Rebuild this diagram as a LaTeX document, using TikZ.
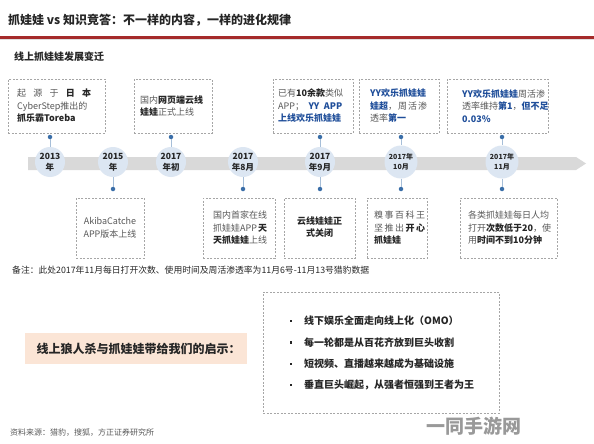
\documentclass[tikz,border=0pt]{standalone}
\usepackage{fontspec}
\setmainfont{Noto Sans CJK SC}
\definecolor{tblue}{HTML}{1F4E9A}
\definecolor{tgray}{HTML}{595959}
\definecolor{tdark}{HTML}{262626}
\definecolor{bargray}{HTML}{D9D9D9}
\definecolor{circfill}{HTML}{DCE6F2}
\definecolor{dotblue}{HTML}{3A6EA8}
\definecolor{peach}{HTML}{FBE5D6}
\definecolor{redline}{HTML}{A52A2A}
\newcommand{\bb}[1]{\textbf{\color{tblue}#1}}
\newcommand{\bk}[1]{\textbf{\color{tdark}#1}}
\begin{document}
\begin{tikzpicture}[x=1pt,y=-1pt,
  dbox/.style={draw=gray!70, dash pattern=on 2pt off 1.5pt, line width=0.6pt, inner sep=0pt, anchor=north west},
  btext/.style={anchor=west, inner sep=0pt, align=left, font=\fontsize{9}{12.5}\selectfont, text=tgray},
  ctext/.style={inner sep=0pt, align=center, font=\fontsize{9}{12.5}\selectfont, text=tgray},
  yearc/.style={circle, fill=circfill, minimum size=30pt, inner sep=0pt, align=center, font=\bfseries\fontsize{8.5}{11}\selectfont, text=tdark},
  yearcs/.style={yearc, minimum size=33pt, font=\bfseries\fontsize{7}{9.5}\selectfont},
  dot/.style={circle, fill=dotblue, minimum size=4.5pt, inner sep=0pt},
  stem/.style={draw=dotblue!45, line width=0.7pt},
  bul/.style={rectangle, fill=tdark, minimum size=2.8pt, inner sep=0pt},
  item/.style={anchor=west, font=\bfseries\fontsize{10}{12}\selectfont, text=tdark, inner sep=0pt}
]
\useasboundingbox (0,0) rectangle (594,444);
\fill[white] (0,0) rectangle (594,444);

% header
\node[anchor=west, inner sep=0pt, font=\bfseries\fontsize{12}{14}\selectfont, text=tdark] (title) at (8,20) {抓娃娃 vs 知识竞答：不一样的内容，一样的进化规律};
\fill[gray!25] (0,38.5) rectangle (594,40.5);
\fill[redline] (0,36.5) rectangle (594,38.7);
\node[anchor=west, inner sep=0pt, font=\bfseries\fontsize{10}{12}\selectfont, text=tdark] (sub) at (14,57) {线上抓娃娃发展变迁};

% timeline bar
\fill[bargray] (28,157) -- (576,157) -- (586,163.5) -- (576,170) -- (28,170) -- cycle;

% year circles
\node[yearc] (c1) at (50,162) {2013\\年};
\node[yearc] (c2) at (113,162) {2015\\年};
\node[yearc] (c3) at (171,162) {2017\\年初};
\node[yearc] (c4) at (243,162) {2017\\年8月};
\node[yearc] (c5) at (320,162) {2017\\年9月};
\node[yearcs] (c6) at (401,162) {2017年\\10月};
\node[yearcs] (c7) at (502,162) {2017年\\11月};

% dots above
\node[dot] (t1) at (50,137) {};
\node[dot] (t3) at (171,137) {};
\node[dot] (t5) at (320,137) {};
\node[dot] (t6) at (401,137) {};
\node[dot] (t7) at (502,137) {};
% dots below
\node[dot] (b2) at (113,189) {};
\node[dot] (b4) at (243,189) {};
\node[dot] (b5) at (320,189) {};
\node[dot] (b6) at (401,189) {};
\node[dot] (b7) at (502,189) {};

\draw[stem] (t1) -- (c1.north);
\draw[stem] (t3) -- (c3.north);
\draw[stem] (t5) -- (c5.north);
\draw[stem] (t6) -- (c6.north);
\draw[stem] (t7) -- (c7.north);
\draw[stem] (c2.south) -- (b2);
\draw[stem] (c4.south) -- (b4);
\draw[stem] (c5.south) -- (b5);
\draw[stem] (c6.south) -- (b6);
\draw[stem] (c7.south) -- (b7);

% top boxes
\node[dbox, minimum width=97pt, minimum height=54pt] (T1) at (8,79) {};
\node[btext] (T1t) at (17,106) {\makebox[74pt][s]{起\hfil 源\hfil 于\hfil \bk{日}\hfil\bk{本}}\\CyberStep推出的\\\bk{抓乐霸Toreba}};
\node[dbox, minimum width=78pt, minimum height=54pt] (T2) at (134,79) {};
\node[btext] (T2t) at (140,106) {国内\bk{网页端云线}\\\bk{娃娃}正式上线};
\node[dbox, minimum width=80pt, minimum height=54pt] (T3) at (273,79) {};
\node[btext] (T3t) at (278,106) {已有\bk{10余款}类似\\\makebox[64pt][s]{APP；\hfil\bb{YY}\hfil\bb{APP}}\\\bb{上线欢乐抓娃娃}};
\node[dbox, minimum width=80pt, minimum height=54pt] (T4) at (359,79) {};
\node[btext] (T4t) at (370,106) {\bb{YY欢乐抓娃娃}\\\makebox[57pt][s]{\bb{娃超}，\hfil 周\hfil 活\hfil 渗}\\透率\bb{第一}};
\node[dbox, minimum width=101pt, minimum height=54pt] (T5) at (447,79) {};
\node[btext] (T5t) at (462,106) {\bb{YY欢乐抓娃娃}周活渗\\透率维持\bb{第1}，\bb{但不足}\\\bb{0.03\%}};

% bottom boxes
\node[dbox, minimum width=68pt, minimum height=60pt] (B2) at (76,198) {};
\node[ctext] (B2t) at (110,228) {AkibaCatche\\APP版本上线};
\node[dbox, minimum width=72pt, minimum height=60pt] (B4) at (203,198) {};
\node[btext] (B4t) at (213,228) {国内首家在线\\\makebox[54pt][s]{抓娃娃APP\hfil\bk{天}}\\\bk{天抓娃娃}上线};
\node[dbox, minimum width=71pt, minimum height=60pt] (B5) at (284,198) {};
\node[ctext, text=tdark, font=\bfseries\fontsize{9}{12.5}\selectfont] (B5t) at (319.5,227) {云线娃娃正\\式关闭};
\node[dbox, minimum width=60pt, minimum height=60pt] (B6) at (367,198) {};
\node[btext] (B6t) at (374,228) {\makebox[51pt][s]{糗\hfil 事\hfil 百\hfil 科\hfil 王}\\\makebox[51pt][s]{坚\hfil 推\hfil 出\hfil \bk{开}\hfil\bk{心}}\\\bk{抓娃娃}};
\node[dbox, minimum width=97pt, minimum height=60pt] (B7) at (460,198) {};
\node[btext] (B7t) at (468,228) {各类抓娃娃每日人均\\\makebox[81pt][s]{打开\bk{次数低于20}，\hfil 使}\\用\bk{时间不到10分钟}};

% note
\node[anchor=west, inner sep=0pt, font=\fontsize{8.8}{10}\selectfont, text=tdark] (note) at (12,270) {备注：此处2017年11月每日打开次数、使用时间及周活渗透率为11月6号-11月13号猎豹数据};

% insight
\node[fill=peach, minimum width=222pt, minimum height=31pt, inner sep=0pt, font=\bfseries\fontsize{12}{14}\selectfont, text=tdark] (ins) at (136,348.5) {\hspace*{5pt}线上狼人杀与抓娃娃带给我们的启示：};
\node[dbox, minimum width=236pt, minimum height=121pt] (list) at (263,292) {};
\node[bul] (p1) at (291,321) {};
\node[bul] (p2) at (291,342.5) {};
\node[bul] (p3) at (291,364) {};
\node[bul] (p4) at (291,385) {};
\node[item] (i1) at (304,321) {线下娱乐全面走向线上化（OMO）};
\node[item] (i2) at (304,342.5) {每一轮都是从百花齐放到巨头收割};
\node[item] (i3) at (304,364) {短视频、直播越来越成为基础设施};
\node[item] (i4) at (304,385) {垂直巨头崛起，从强者恒强到王者为王};

% source
\node[anchor=west, inner sep=0pt, font=\fontsize{8}{10}\selectfont, text=tgray] (src) at (10,433) {资料来源：猎豹，搜狐，方正证券研究所};

% watermark
\node[inner sep=0pt, font=\bfseries\fontsize{19}{20}\selectfont, text=gray!80] (wm) at (474,426) {一同手游网};
\end{tikzpicture}
\end{document}
